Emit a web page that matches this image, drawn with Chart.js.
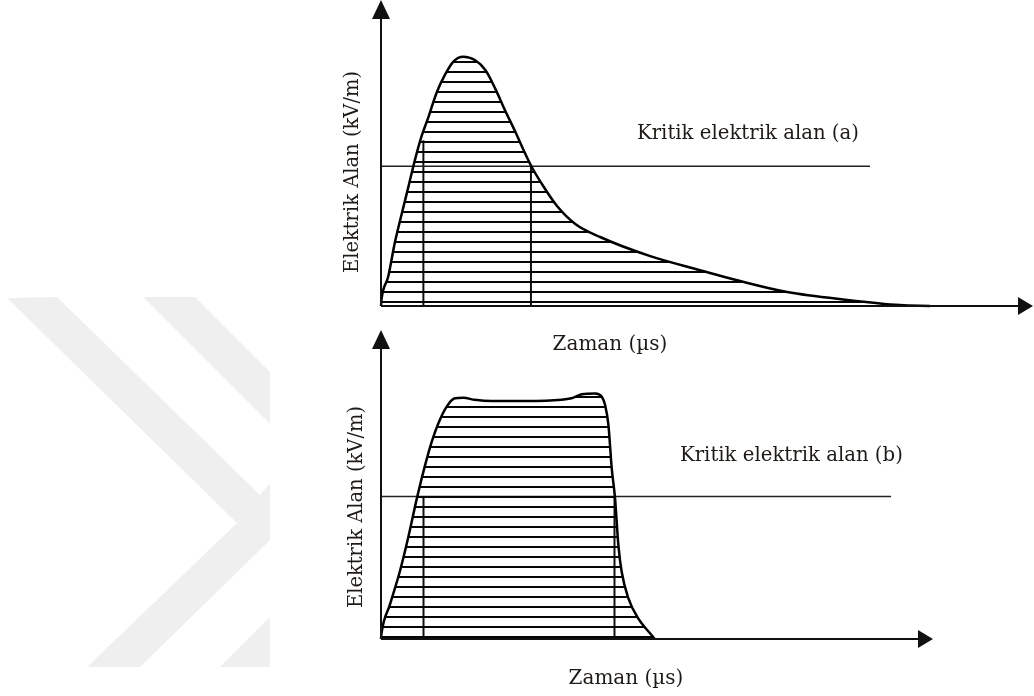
<!DOCTYPE html>
<html>
<head>
<meta charset="utf-8">
<script src="https://cdn.jsdelivr.net/npm/chart.js@4.4.1/dist/chart.umd.min.js"></script>
<style>
  html, body { margin: 0; padding: 0; background: #fff; }
  #wrap { position: relative; width: 1034px; height: 696px; overflow: hidden; }
  #wrap canvas, #wrap svg { position: absolute; left: 0; top: 0; }
  .lbl { position: absolute; font-family: "DejaVu Serif", serif; color: #1e1a16; white-space: nowrap; line-height: 1; }
  .c { transform: translate(-50%, -50%); }
  .v { transform: translate(-50%, -50%) rotate(-90deg); }
  .l { transform: translateY(-50%); }
</style>
</head>
<body>
<div id="wrap">
  <svg width="1034" height="696">
    <g fill="#efefef">
      <polygon points="7,298 57,297 260,495 270,483 270,540 140,667 87,667 237,523"/>
      <polygon points="143,297 195,297 270,372 270,424"/>
      <polygon points="220,667 270,617 270,667"/>
    </g>
  </svg>
  <canvas id="chartA" width="1034" height="696"></canvas>
  <canvas id="chartB" width="1034" height="696"></canvas>
  <div class="lbl v" style="left:352px;top:172px;font-size:19.5px">Elektrik Alan (kV/m)</div>
  <div class="lbl c" style="left:610px;top:343px;font-size:20px">Zaman (µs)</div>
  <div class="lbl l" style="left:637px;top:133px;font-size:19.7px">Kritik elektrik alan (a)</div>
  <div class="lbl v" style="left:356px;top:507px;font-size:19.5px">Elektrik Alan (kV/m)</div>
  <div class="lbl c" style="left:626px;top:677px;font-size:20px">Zaman (µs)</div>
  <div class="lbl l" style="left:680px;top:455px;font-size:19.7px">Kritik elektrik alan (b)</div>
</div>
<script>
// (a) short pulse: field vs time, arbitrary units (axis 0..100)
const timeA  = [0, 0.1, 1.1, 2.1, 3.2, 4.2, 5.2, 6.2, 7.3, 8.5, 9.8, 11.1, 12.6, 14.4, 16.0, 17.5, 19.0, 20.6, 22.1, 23.1, 24.6, 27.0, 29.8, 33.6, 41.3, 48.9, 55.1, 62.3, 71.5, 79.6, 84.2];
const fieldA = [0, 2.5, 9.6, 20.6, 30.5, 39.2, 48.0, 55.7, 62.3, 70.0, 76.0, 80.4, 82.0, 80.9, 77.6, 71.6, 64.5, 57.3, 50.2, 45.8, 40.4, 32.9, 27.0, 22.7, 16.4, 11.8, 8.2, 4.6, 2.0, 0.3, 0];
const critA = 46;          // critical field level
const critEndA = 75;       // where the critical line stops
const cutTimesA = [6.5, 23.0];
const cutTopsA  = [54.5, 46];

// (b) flat-top pulse
const timeB  = [0, 0.1, 1.6, 3.4, 4.9, 6.5, 8.0, 9.2, 10.4, 11.9, 13.4, 14.9, 17.0, 20.1, 26.1, 32.7, 34.5, 36.4, 38.8, 40.0, 40.6, 41.2, 41.8, 42.4, 43.0, 43.6, 44.8, 46.6, 49.0, 49.6];
const fieldB = [0, 1.9, 11.1, 21.9, 32.8, 45.8, 56.7, 64.3, 70.3, 75.7, 78.4, 78.6, 77.9, 77.5, 77.5, 77.9, 78.4, 79.7, 80.0, 78.9, 76.2, 69.7, 55.6, 45.8, 30.6, 21.9, 13.3, 6.7, 1.3, 0];
const critB = 46.4;
const critEndB = 92.4;
const cutTimesB = [7.7, 42.3];
const cutTopsB  = [46.4, 46.4];

const INK = "#111";

// horizontal hatching, 10px pitch; phase lines it up with the drawing
function hatch(phase) {
  const c = document.createElement("canvas");
  c.width = 10; c.height = 10;
  const g = c.getContext("2d");
  g.fillStyle = "#050505";
  g.fillRect(0, phase, 10, 2);
  return g.createPattern(c, "repeat");
}

// axis lines with arrowheads at the top / right ends
const arrowAxes = {
  id: "arrowAxes",
  afterDatasetsDraw(chart) {
    const { ctx, chartArea: a } = chart;
    const x0 = a.left, y0 = a.bottom;
    ctx.save();
    ctx.strokeStyle = INK; ctx.fillStyle = INK; ctx.lineWidth = 2;
    ctx.beginPath();
    ctx.moveTo(x0, y0); ctx.lineTo(x0, a.top + 10);
    ctx.moveTo(x0, y0); ctx.lineTo(a.right - 10, y0);
    ctx.stroke();
    ctx.beginPath();
    ctx.moveTo(x0, a.top - 2); ctx.lineTo(x0 - 9, a.top + 17); ctx.lineTo(x0 + 9, a.top + 17); ctx.closePath();
    ctx.moveTo(a.right, y0); ctx.lineTo(a.right - 15, y0 - 9); ctx.lineTo(a.right - 15, y0 + 9); ctx.closePath();
    ctx.fill();
    ctx.restore();
  }
};

function seg(xs, ys) { return xs.map((x, i) => ({ x, y: ys[i] })); }

function makeChart(id, t, f, crit, critEnd, cutT, cutTop, padding, phase) {
  const ds = [
    { data: seg(t, f), borderColor: "#000", borderWidth: 2.5, fill: "origin",
      backgroundColor: hatch(phase), cubicInterpolationMode: "monotone", pointRadius: 0, clip: false },
    { data: [{ x: 0, y: crit }, { x: critEnd, y: crit }], borderColor: "#222", borderWidth: 1.5,
      fill: false, pointRadius: 0, clip: false }
  ];
  cutT.forEach((x, i) => ds.push({
    data: [{ x, y: 0 }, { x, y: cutTop[i] }], borderColor: INK, borderWidth: 2,
    fill: false, pointRadius: 0, clip: false
  }));
  return new Chart(document.getElementById(id), {
    type: "line",
    data: { datasets: ds },
    options: {
      responsive: false, animation: false, events: [],
      layout: { padding },
      plugins: { legend: { display: false }, tooltip: { enabled: false } },
      scales: {
        x: { type: "linear", min: 0, max: 100, display: false },
        y: { type: "linear", min: 0, max: 100, display: false }
      }
    },
    plugins: [arrowAxes]
  });
}

makeChart("chartA", timeA, fieldA, critA, critEndA, cutTimesA, cutTopsA,
  { left: 381, right: 1, top: 2, bottom: 390 }, 1);
makeChart("chartB", timeB, fieldB, critB, critEndB, cutTimesB, cutTopsB,
  { left: 381, right: 101, top: 332, bottom: 57 }, 6);
</script>
</body>
</html>
